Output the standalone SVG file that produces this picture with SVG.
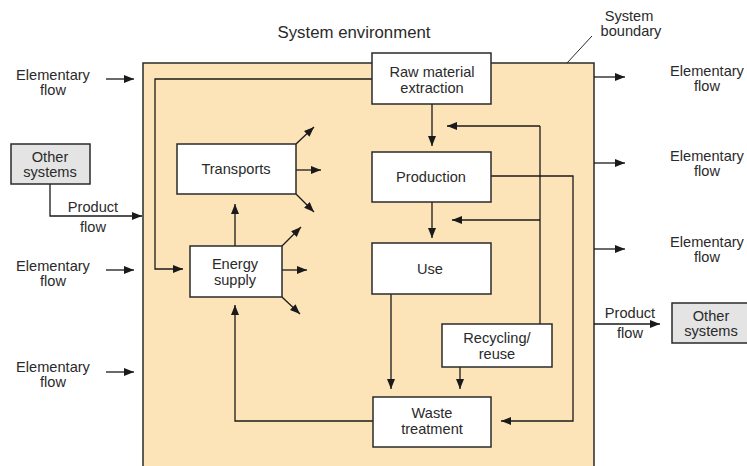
<svg xmlns="http://www.w3.org/2000/svg" width="747" height="466" viewBox="0 0 747 466">
  <defs>
    <marker id="ah" markerWidth="10" markerHeight="8" refX="10" refY="4" orient="auto" markerUnits="userSpaceOnUse">
      <path d="M0,0 L10,4 L0,8 Z" fill="#1a1a1a"/>
    </marker>
  </defs>
  <style>
    text { font-family: "Liberation Sans", Arial, sans-serif; fill: #2a2a2a; font-size: 14.6px; text-anchor: middle; }
    .title { font-size: 16.8px; }
    .box { fill: #ffffff; stroke: #2a2a2a; stroke-width: 1.5; }
    .ext { fill: #e4e4e4; stroke: #2a2a2a; stroke-width: 1.5; }
    .ln { fill: none; stroke: #1a1a1a; stroke-width: 1.3; }
    .ar { fill: none; stroke: #1a1a1a; stroke-width: 1.3; marker-end: url(#ah); }
  </style>
  <rect width="747" height="466" fill="#ffffff"/>

  <!-- system boundary -->
  <g id="boundary">
    <rect x="143" y="63" width="451" height="410" fill="#fde4b8" stroke="#2a2a2a" stroke-width="1.5"/>
    <line x1="567" y1="63" x2="592" y2="36" stroke="#2a2a2a" stroke-width="1"/>
    <text x="629" y="21">System</text>
    <text x="631" y="36">boundary</text>
    <text class="title" x="354" y="38">System environment</text>
  </g>

  <!-- connectors -->
  <g id="connectors">
    <!-- inputs from the environment -->
    <line class="ar" x1="106" y1="79" x2="134" y2="79"/>
    <line class="ar" x1="106" y1="270" x2="134" y2="270"/>
    <line class="ar" x1="106" y1="372" x2="134" y2="372"/>
    <polyline class="ar" points="50,184 50,216 142,216"/>
    <!-- outputs to the environment -->
    <line class="ar" x1="594" y1="77" x2="625" y2="77"/>
    <line class="ar" x1="594" y1="163" x2="625" y2="163"/>
    <line class="ar" x1="594" y1="249" x2="625" y2="249"/>
    <line class="ar" x1="594" y1="324" x2="660" y2="324"/>
    <!-- raw material to energy supply -->
    <polyline class="ar" points="372,79 155,79 155,269 183,269"/>
    <!-- main chain -->
    <line class="ar" x1="432" y1="104" x2="432" y2="146"/>
    <line class="ar" x1="432" y1="202" x2="432" y2="238"/>
    <line class="ar" x1="391" y1="294" x2="391" y2="389"/>
    <line class="ar" x1="460" y1="367" x2="460" y2="389"/>
    <!-- recycling feedback -->
    <polyline class="ln" points="540,324 540,126"/>
    <line class="ar" x1="540" y1="126" x2="447" y2="126"/>
    <line class="ar" x1="540" y1="220" x2="452" y2="220"/>
    <!-- production to waste treatment -->
    <polyline class="ar" points="491,176 573,176 573,421 501,421"/>
    <!-- waste treatment to energy supply -->
    <polyline class="ar" points="373,421 235,421 235,305"/>
    <!-- energy supply to transports -->
    <line class="ar" x1="235" y1="246" x2="235" y2="204"/>
    <!-- transport emissions -->
    <line class="ar" x1="296" y1="144" x2="314" y2="127"/>
    <line class="ar" x1="296" y1="170" x2="321" y2="170"/>
    <line class="ar" x1="296" y1="194" x2="314" y2="212"/>
    <!-- energy supply emissions -->
    <line class="ar" x1="282" y1="246" x2="301" y2="227"/>
    <line class="ar" x1="282" y1="270" x2="307" y2="270"/>
    <line class="ar" x1="282" y1="297" x2="300" y2="314"/>
  </g>

  <!-- flow labels -->
  <g id="labels">
    <text x="53" y="80">Elementary</text>
    <text x="53" y="95">flow</text>
    <text x="53" y="271">Elementary</text>
    <text x="53" y="286">flow</text>
    <text x="53" y="372">Elementary</text>
    <text x="53" y="387">flow</text>
    <text x="93" y="212">Product</text>
    <text x="93" y="232">flow</text>
    <text x="707" y="76">Elementary</text>
    <text x="707" y="91">flow</text>
    <text x="707" y="161">Elementary</text>
    <text x="707" y="176">flow</text>
    <text x="707" y="247">Elementary</text>
    <text x="707" y="262">flow</text>
    <text x="630" y="318">Product</text>
    <text x="630" y="338">flow</text>
  </g>

  <g id="other-systems-in">
    <rect class="ext" x="11" y="144" width="79" height="40"/>
    <text x="50" y="162">Other</text>
    <text x="50" y="177">systems</text>
  </g>
  <g id="other-systems-out">
    <rect class="ext" x="672" y="303" width="80" height="40"/>
    <text x="711" y="321">Other</text>
    <text x="711" y="336">systems</text>
  </g>
  <g id="raw-material">
    <rect class="box" x="372" y="53" width="119" height="51"/>
    <text x="432" y="77">Raw material</text>
    <text x="432" y="93">extraction</text>
  </g>
  <g id="production">
    <rect class="box" x="372" y="152" width="119" height="50"/>
    <text x="431" y="182">Production</text>
  </g>
  <g id="use">
    <rect class="box" x="372" y="243" width="119" height="51"/>
    <text x="430" y="274">Use</text>
  </g>
  <g id="recycling">
    <rect class="box" x="442" y="324" width="110" height="43"/>
    <text x="497" y="343">Recycling/</text>
    <text x="497" y="359">reuse</text>
  </g>
  <g id="waste-treatment">
    <rect class="box" x="373" y="397" width="118" height="50"/>
    <text x="432" y="418">Waste</text>
    <text x="432" y="434">treatment</text>
  </g>
  <g id="transports">
    <rect class="box" x="177" y="144" width="119" height="50"/>
    <text x="236" y="174">Transports</text>
  </g>
  <g id="energy-supply">
    <rect class="box" x="190" y="246" width="92" height="51"/>
    <text x="235" y="269">Energy</text>
    <text x="235" y="285">supply</text>
  </g>
</svg>
